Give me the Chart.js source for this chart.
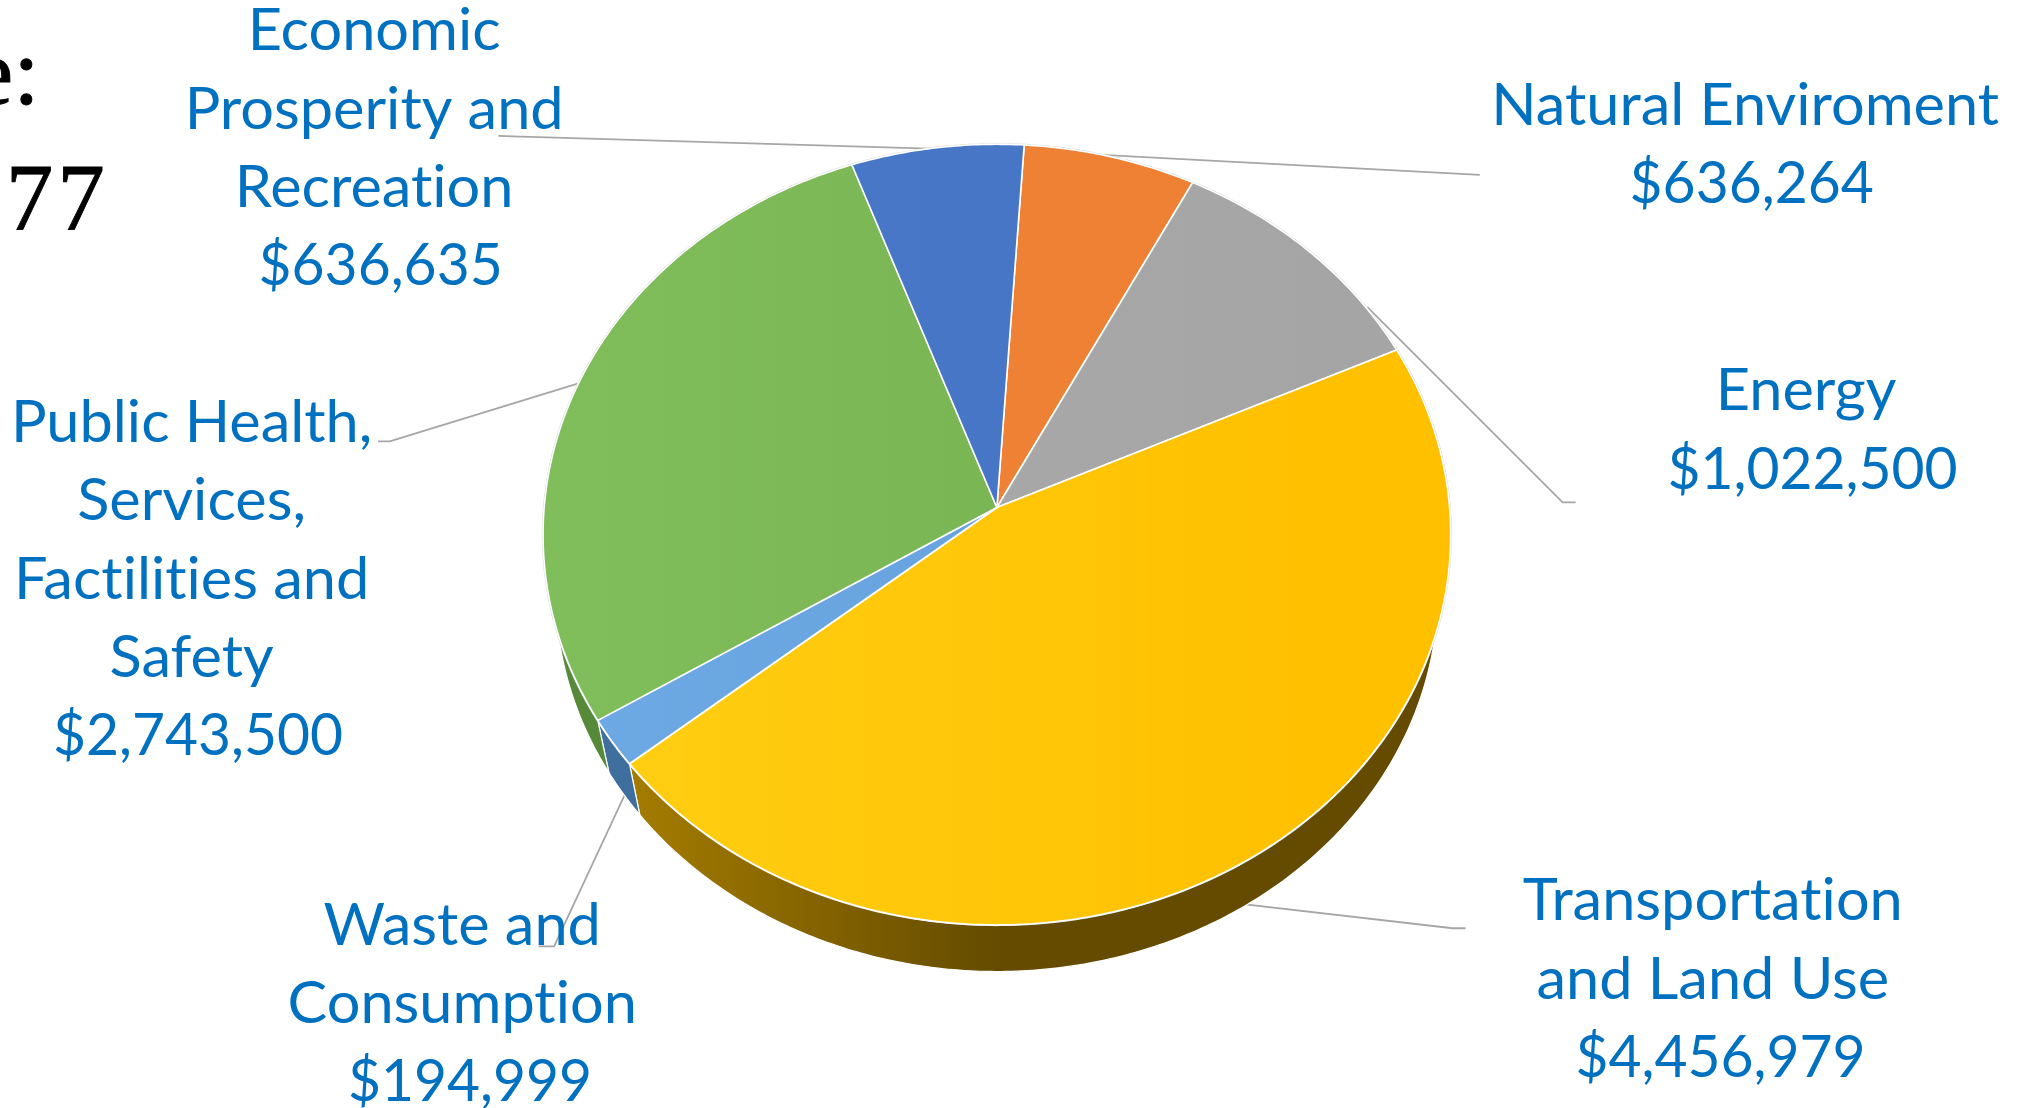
<!DOCTYPE html>
<html>
<head>
<meta charset="utf-8">
<style>html,body{margin:0;padding:0;background:#fff;overflow:hidden}canvas{display:block}</style>
<script src="https://cdn.jsdelivr.net/npm/chart.js@4/dist/chart.umd.js"></script>
</head>
<body>
<canvas id="c" width="2030" height="1108"></canvas>
<script>
// ---- data ----
const categories = [
  ["Natural Enviroment"],
  ["Energy"],
  ["Transportation", "and Land Use"],
  ["Waste and", "Consumption"],
  ["Public Health,", "Services,", "Factilities and", "Safety"],
  ["Economic", "Prosperity and", "Recreation"]
];
const amounts = [636264, 1022500, 4456979, 194999, 2743500, 636635];
const titleFragments = ["e:", "77"];

// ---- styles ----
const faceStops = [
  ["#f08438", "#ee7f33"],
  ["#ababab", "#a5a5a5"],
  ["#ffcf14", "#ffc000"],
  ["#6da9e4", "#649fda"],
  ["#80bd5b", "#77b14f"],
  ["#4a78ca", "#4675c5"]
];
const sideStops = [
  ["#8e4a1c", "#8e4a1c"],
  ["#636363", "#636363"],
  ["#a67d00", "#644b00"],
  ["#3f6f9e", "#376190"],
  ["#578a38", "#4a7a2c"],
  ["#2a4678", "#2a4678"]
];

// ---- layout (reference picture units, multiplied by S) ----
const S = 2030 / 1568;
const apexX = 770 * S, apexY = 392 * S;
const radiusX = 350.3 * S;
const flatten = 0.858, tilt = 0.0695;
const depthScale = 0.972, depthDrop = 45 * S;
const rotationDeg = 3.7;

const labelFont = 57.5, labelWiden = 1.034, amountWiden = 0.99, labelPitch = 60.4 * S;
const labelColor = "#0070C0";
// centre of name lines, first baseline, centre of amount line
const labelPlace = [
  [1348, 96.5, 1353],
  [1395, 317, 1400],
  [1323, 711, 1329],
  [357, 730, 363],
  [148, 341.5, 153],
  [289, 39, 294]
];
const leaders = [
  [[1143, 135], [1132, 134.5], [800, 117]],
  [[1217, 388], [1207, 388], [1056, 237]],
  [[1132, 717], [1122, 717], [940, 696]],
  [[416, 731], [428, 731], [490, 598]],
  [[292, 341], [301, 341], [460, 292]],
  [[385, 105], [396, 105.3], [790, 117]]
];

// ---- tilted pie element ----
function project(el, a) {
  const u = Math.cos(a), v = Math.sin(a), w = 1 - tilt * v, R = el.outerRadius;
  return [el.x + R * u / w, el.y + R * flatten * v / w];
}
function lower(p, el) {
  return [el.x + depthScale * (p[0] - el.x), el.y + depthScale * (p[1] - el.y) + depthDrop];
}
function arcPoints(el) {
  const pts = [], n = Math.max(4, Math.ceil((el.endAngle - el.startAngle) * 90));
  for (let i = 0; i <= n; i++) pts.push(project(el, el.startAngle + (el.endAngle - el.startAngle) * i / n));
  return pts;
}
class TiltArc extends Chart.ArcElement {
  static id = "tiltArc";
  draw(ctx) {
    const pts = arcPoints(this);
    ctx.save();
    ctx.beginPath();
    ctx.moveTo(this.x, this.y);
    pts.forEach(p => ctx.lineTo(p[0], p[1]));
    ctx.closePath();
    ctx.fillStyle = this.options.backgroundColor;
    ctx.fill();
    ctx.lineJoin = "round";
    ctx.lineWidth = this.options.borderWidth;
    ctx.strokeStyle = this.options.borderColor;
    ctx.stroke();
    ctx.restore();
  }
}
class TiltPie extends Chart.PieController {
  static id = "tiltPie";
  static defaults = { dataElementType: "tiltArc" };
}
Chart.register(TiltArc, TiltPie);

const xMin = 420 * S, xMax = 1120 * S;
function faceColor(c) {
  const g = c.chart.ctx.createLinearGradient(xMin, 0, xMax - 100 * S, 0);
  const s = faceStops[c.dataIndex];
  g.addColorStop(0, s[0]); g.addColorStop(1, s[1]);
  return g;
}

const sidesAndLeaders = {
  id: "sidesAndLeaders",
  beforeDatasetsDraw(chart) {
    const ctx = chart.ctx, arcs = chart.getDatasetMeta(0).data;
    ctx.save();
    ctx.strokeStyle = "#a6a6a6"; ctx.lineWidth = 1.8; ctx.lineJoin = "round";
    leaders.forEach(l => {
      ctx.beginPath();
      l.forEach((p, i) => i ? ctx.lineTo(p[0] * S, p[1] * S) : ctx.moveTo(p[0] * S, p[1] * S));
      ctx.stroke();
    });
    arcs.forEach((el, i) => {
      const top = arcPoints(el), bot = top.map(p => lower(p, el)).reverse();
      const g = ctx.createLinearGradient(480 * S, 0, 770 * S, 0);
      g.addColorStop(0, sideStops[i][0]); g.addColorStop(1, sideStops[i][1]);
      ctx.beginPath();
      top.concat(bot).forEach((p, j) => j ? ctx.lineTo(p[0], p[1]) : ctx.moveTo(p[0], p[1]));
      ctx.closePath();
      ctx.fillStyle = g; ctx.fill();
      ctx.strokeStyle = "#ffffff"; ctx.lineWidth = 1.2; ctx.stroke();
      // faint rim outside the face and the wall
      ctx.strokeStyle = "#d6d6d6"; ctx.lineWidth = 2.4;
      ctx.beginPath();
      top.forEach((p, j) => j ? ctx.lineTo(p[0], p[1]) : ctx.moveTo(p[0], p[1]));
      ctx.stroke();
    });
    ctx.restore();
  },
  afterDatasetsDraw(chart) {
    const ctx = chart.ctx;
    ctx.save();
    ctx.fillStyle = labelColor;
    ctx.textAlign = "center";
    ctx.textBaseline = "alphabetic";
    ctx.font = labelFont + 'px Lato';
    ctx.letterSpacing = "0.01px"; // keeps "ti" and "fi" unligated, as in the reference
    const put = (t, cx, y, widen) => {
      ctx.save();
      ctx.translate(cx, y);
      ctx.scale(widen, 1);
      ctx.fillText(t, 0, 0);
      ctx.restore();
    };
    categories.forEach((lines, i) => {
      const [cx, y0, vx] = labelPlace[i];
      lines.forEach((t, j) => put(t, cx * S, y0 * S + j * labelPitch, labelWiden));
      put("$" + amounts[i].toLocaleString("en-US"), vx * S, y0 * S + lines.length * labelPitch, amountWiden);
    });
    ctx.fillStyle = "#000000";
    ctx.strokeStyle = "#000000";
    ctx.lineWidth = 0.9;
    ctx.font = '95px "Liberation Serif"';
    ctx.textAlign = "right";
    ctx.letterSpacing = "0px";
    ctx.fillText(titleFragments[0], 29 * S + 2, 80 * S);
    ctx.strokeText(titleFragments[0], 29 * S + 2, 80 * S);
    ctx.textAlign = "left";
    ctx.letterSpacing = "4px";
    ctx.fillText(titleFragments[1], 4.5 * S, 178 * S);
    ctx.strokeText(titleFragments[1], 4.5 * S, 178 * S);
    ctx.restore();
  }
};

new Chart(document.getElementById("c"), {
  type: "tiltPie",
  data: {
    labels: categories.map(l => l.join(" ")),
    datasets: [{
      data: amounts,
      backgroundColor: faceColor,
      borderColor: "#ffffff",
      borderWidth: 1.6
    }]
  },
  plugins: [sidesAndLeaders],
  options: {
    responsive: false,
    animation: false,
    devicePixelRatio: 1,
    rotation: rotationDeg,
    layout: { padding: {
      left: apexX - radiusX,
      right: 2030 - apexX - radiusX,
      top: Math.max(0, apexY - radiusX),
      bottom: 1108 - apexY - radiusX
    } },
    plugins: { legend: { display: false }, tooltip: { enabled: false }, title: { display: false } }
  }
});
</script>
</body>
</html>
